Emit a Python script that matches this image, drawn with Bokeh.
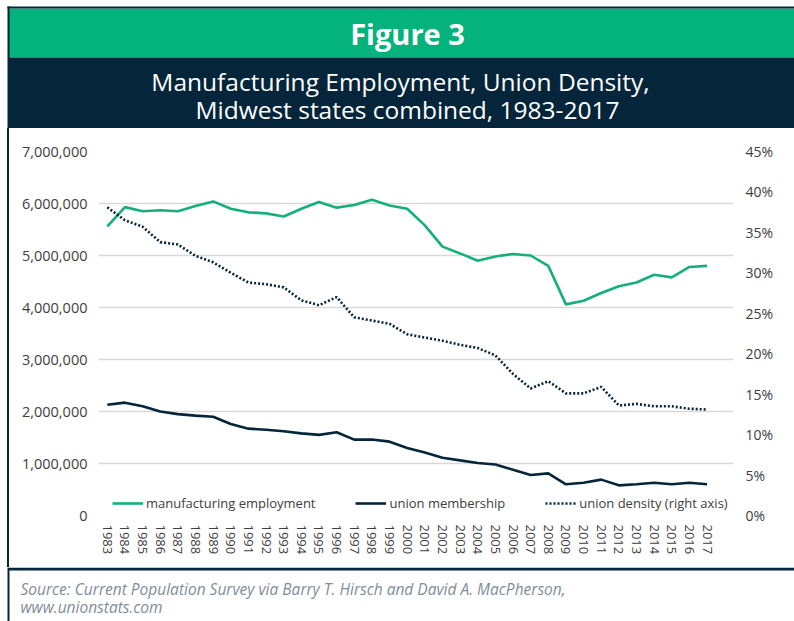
from bokeh.plotting import figure
from bokeh.layouts import column, row
from bokeh.core.properties import value
from bokeh.models import (Range1d, LinearAxis, FixedTicker, NumeralTickFormatter,
                          PrintfTickFormatter, Legend, LegendItem, Div)
from bokeh.embed import file_html
from bokeh.resources import INLINE

years = list(range(1983, 2018))
manufacturing = [5560000, 5930000, 5850000, 5870000, 5850000, 5950000, 6040000, 5900000,
                 5830000, 5810000, 5750000, 5900000, 6030000, 5920000, 5970000, 6070000,
                 5960000, 5900000, 5580000, 5170000, 5040000, 4900000, 4980000, 5030000,
                 5000000, 4800000, 4060000, 4130000, 4280000, 4410000, 4480000, 4630000,
                 4580000, 4780000, 4800000]
membership = [2130000, 2170000, 2100000, 2000000, 1950000, 1920000, 1900000, 1760000,
              1670000, 1650000, 1620000, 1580000, 1550000, 1600000, 1460000, 1460000,
              1420000, 1300000, 1210000, 1110000, 1060000, 1010000, 980000, 880000,
              780000, 810000, 600000, 630000, 690000, 580000, 600000, 630000,
              600000, 630000, 600000]
density = [38.1, 36.5, 35.7, 33.8, 33.5, 32.1, 31.3, 30.0, 28.8, 28.6, 28.2, 26.6, 26.0,
           27.0, 24.5, 24.1, 23.7, 22.4, 22.0, 21.6, 21.1, 20.7, 19.8, 17.5, 15.7, 16.6,
           15.1, 15.1, 15.9, 13.6, 13.8, 13.5, 13.5, 13.2, 13.1]
left_ticks = [0, 1000000, 2000000, 3000000, 4000000, 5000000, 6000000, 7000000]
right_ticks = [0, 5, 10, 15, 20, 25, 30, 35, 40, 45]

labels = ["manufacturing employment", "union membership", "union density (right axis)"]
title_text = "Figure 3"
subtitle_lines = ["Manufacturing Employment, Union Density,", "Midwest states combined, 1983-2017"]
source_lines = ["Source: Current Population Survey via Barry T. Hirsch and David A. MacPherson,",
                "www.unionstats.com"]

GREEN = "#04B27B"
LGREEN = "#14B07C"
NAVY = "#04253A"
FONT = "Open Sans"
TICK_COLOR = "#404040"
W, H = 794, 621
HEAD_H = 128
FOOT_TOP = 567


def blank(width, height, y0, y1, x0=0, x1=None):
    f = figure(width=width, height=height, output_backend="svg", toolbar_location=None,
               x_range=Range1d(x0, x1 if x1 is not None else width),
               y_range=Range1d(y1, y0), x_axis_type=None, y_axis_type=None,
               min_border=0)
    f.outline_line_color = None
    f.xgrid.visible = False
    f.ygrid.visible = False
    f.background_fill_color = "white"
    f.border_fill_color = "white"
    return f


# ---------- header ----------
head = blank(W, HEAD_H, 0, HEAD_H)
head.quad(left=[8, 8, 7, 7], right=[W, W, W, 9], top=[8, 57, 6, 6], bottom=[57, HEAD_H, 8, HEAD_H],
          fill_color=[GREEN, NAVY, NAVY, NAVY], line_color=None)
head.text(x=[407], y=[33], text=[title_text], text_font=value(FONT), text_font_style="bold",
          text_font_size="29px", text_color="white", text_align="center", text_baseline="middle")
head.text(x=[400, 407], y=[81, 109], text=subtitle_lines, text_font=value(FONT),
          text_font_size="24.5px", text_color="white", text_align="center", text_baseline="middle")

# ---------- left border strip ----------
MID_H = FOOT_TOP - HEAD_H
strip = Div(text="", width=9, height=MID_H, margin=0,
            styles={"background": f"linear-gradient(to right, white 0px, white 7px, {NAVY} 7px, {NAVY} 9px)"})

# ---------- chart ----------
p = figure(width=W - 9, height=MID_H, output_backend="svg", toolbar_location=None,
           x_range=Range1d(1982.5, 2018.5), y_range=Range1d(0, 7000000),
           min_border_left=89, min_border_right=61, min_border_top=23, min_border_bottom=52)
p.outline_line_color = None
p.background_fill_color = "white"
p.border_fill_color = "white"
p.extra_y_ranges = {"pct": Range1d(0, 45)}

for ax in [p.xaxis[0], p.yaxis[0]]:
    ax.axis_line_color = None
    ax.major_tick_line_color = None
    ax.minor_tick_line_color = None
    ax.major_tick_in = 0
    ax.major_tick_out = 0
    ax.minor_tick_in = 0
    ax.minor_tick_out = 0
    ax.major_label_text_font = FONT
    ax.major_label_text_color = TICK_COLOR

p.yaxis[0].ticker = FixedTicker(ticks=left_ticks)
p.yaxis[0].formatter = NumeralTickFormatter(format="0,0")
p.yaxis[0].major_label_text_font_size = "14.5px"
p.yaxis[0].major_label_standoff = 11

p.xaxis[0].ticker = FixedTicker(ticks=years)
p.xaxis[0].major_label_orientation = "vertical"
p.xaxis[0].major_label_text_font_size = "13px"
p.xaxis[0].major_label_standoff = 9

right = LinearAxis(y_range_name="pct", ticker=FixedTicker(ticks=right_ticks),
                   formatter=PrintfTickFormatter(format="%d%%"))
right.axis_line_color = None
right.major_tick_line_color = None
right.minor_tick_line_color = None
right.major_tick_in = 0
right.major_tick_out = 0
right.major_label_text_font = FONT
right.major_label_text_color = TICK_COLOR
right.major_label_text_font_size = "14px"
right.major_label_standoff = 12
p.add_layout(right, "right")

p.xgrid.grid_line_color = None
p.ygrid.grid_line_color = "#D9D9D9"
p.ygrid.grid_line_width = 1.5
p.ygrid.ticker = FixedTicker(ticks=left_ticks)

r1 = p.line(years, manufacturing, line_color=LGREEN, line_width=2.6)
r2 = p.line(years, membership, line_color=NAVY, line_width=2.6)
r3 = p.line(years, density, y_range_name="pct", line_color=NAVY, line_width=2.6,
            line_dash="2 2")

legend = Legend(items=[LegendItem(label=labels[0], renderers=[r1]),
                       LegendItem(label=labels[1], renderers=[r2]),
                       LegendItem(label=labels[2], renderers=[r3])],
                orientation="horizontal", location=(14, 2), padding=0, margin=0,
                spacing=40, glyph_width=31, glyph_height=20, label_standoff=3,
                label_text_font=FONT, label_text_font_size="13px",
                label_text_color=TICK_COLOR, border_line_color=None,
                background_fill_alpha=0)
p.add_layout(legend)

# ---------- footer ----------
FOOT_H = H - FOOT_TOP
foot = blank(W, FOOT_H, FOOT_TOP, H)
foot.quad(left=[8, 7], right=[W, 9], top=[FOOT_TOP, FOOT_TOP], bottom=[FOOT_TOP + 3, H],
          fill_color=NAVY, line_color=None)
foot.text(x=[20, 20], y=[588, 606], text=source_lines, text_font=value(FONT),
          text_font_style="italic", text_font_size="15.5px", text_color="#7F8D99",
          text_align="left", text_baseline="middle")

layout = column(head, row(strip, p, spacing=0), foot, spacing=0)
open("out.html", "w").write(file_html(layout, INLINE))
